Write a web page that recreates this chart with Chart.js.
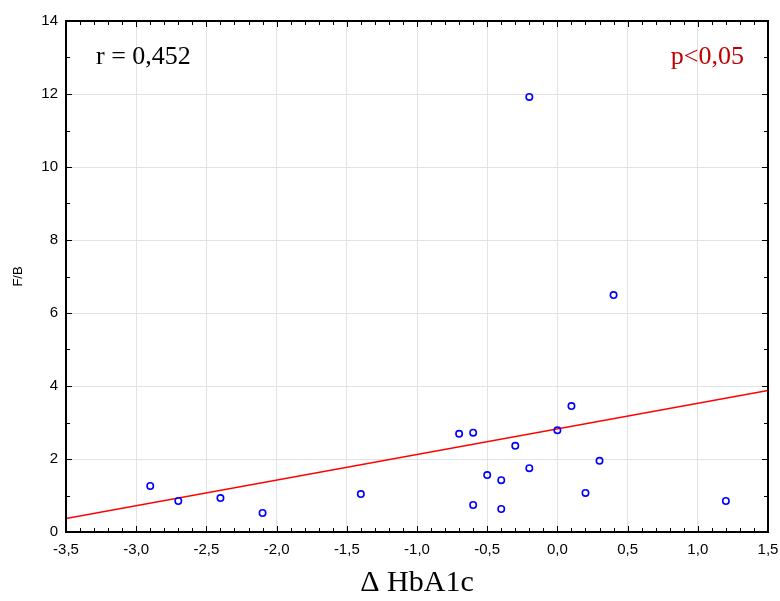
<!DOCTYPE html>
<html>
<head>
<meta charset="utf-8">
<script src="https://cdn.jsdelivr.net/npm/chart.js@4"></script>
<style>
  html, body { margin: 0; padding: 0; background: #fff; }
  #wrap { width: 780px; height: 601px; }
</style>
</head>
<body>
<div id="wrap"><canvas id="chart"></canvas></div>
<script>
const xValues = [-2.9, -2.7, -2.4, -2.1, -1.4, -0.7, -0.6, -0.6, -0.5, -0.4, -0.4, -0.3, -0.2, -0.2, 0.0, 0.1, 0.2, 0.3, 0.4, 1.2];
const yValues = [1.26, 0.85, 0.93, 0.52, 1.04, 2.69, 2.72, 0.74, 1.56, 1.42, 0.63, 2.36, 11.92, 1.75, 2.79, 3.45, 1.07, 1.95, 6.49, 0.85];

// fitted regression line, ends at the axis limits
const fitX = [-3.5, 1.5];
const fitY = [0.37, 3.88];

const rText = "r = 0,452";
const pText = "p<0,05";

const comma = v => v.toFixed(1).replace(".", ",");

// frame + inward ticks like the original stats package
const framePlugin = {
  id: "frame",
  afterDraw(chart) {
    const { ctx, chartArea: a, scales } = chart;
    const xs = scales.x, ys = scales.y;
    ctx.save();
    ctx.strokeStyle = "#000";
    ctx.lineWidth = 1;
    ctx.beginPath();
    for (let i = 0; i <= 50; i++) {
      const v = -3.5 + i * 0.1;
      const px = Math.round(xs.getPixelForValue(v)) + 0.5;
      const len = i % 5 === 0 ? 6 : 4;
      ctx.moveTo(px, a.bottom); ctx.lineTo(px, a.bottom - len);
      ctx.moveTo(px, a.top); ctx.lineTo(px, a.top + len);
    }
    for (let v = 0; v <= 14; v++) {
      const py = Math.round(ys.getPixelForValue(v)) + 0.5;
      const len = v % 2 === 0 ? 6 : 4;
      ctx.moveTo(a.left, py); ctx.lineTo(a.left + len, py);
      ctx.moveTo(a.right, py); ctx.lineTo(a.right - len, py);
    }
    ctx.stroke();
    ctx.lineWidth = 2;
    ctx.strokeRect(a.left, a.top, a.right - a.left, a.bottom - a.top);

    ctx.font = '26px "Liberation Serif", "Times New Roman", serif';
    ctx.textBaseline = "alphabetic";
    ctx.fillStyle = "#000";
    ctx.textAlign = "left";
    ctx.fillText(rText, a.left + 30, a.top + 43);
    ctx.fillStyle = "#c00000";
    ctx.textAlign = "right";
    ctx.fillText(pText, a.right - 24, a.top + 43);
    ctx.restore();
  }
};

new Chart(document.getElementById("chart"), {
  type: "scatter",
  data: {
    datasets: [
      {
        label: "F/B",
        data: xValues.map((x, i) => ({ x: x, y: yValues[i] })),
        pointStyle: "circle",
        pointRadius: 3.2,
        pointBorderWidth: 1.6,
        pointBorderColor: "#0000ff",
        pointBackgroundColor: "rgba(0,0,0,0)",
        order: 1
      },
      {
        label: "fit",
        type: "line",
        data: fitX.map((x, i) => ({ x: x, y: fitY[i] })),
        borderColor: "#ff0000",
        borderWidth: 1.5,
        pointRadius: 0,
        fill: false,
        order: 2
      }
    ]
  },
  options: {
    responsive: true,
    maintainAspectRatio: false,
    animation: false,
    layout: { padding: { top: 21, right: 12, left: 0, bottom: 0 } },
    plugins: {
      legend: { display: false },
      tooltip: { enabled: false }
    },
    scales: {
      x: {
        type: "linear",
        min: -3.5,
        max: 1.5,
        afterFit: s => { s.height = 69; s.paddingLeft = 0; s.paddingRight = 0; },
        border: { display: false },
        grid: { color: "#e3e3e3", lineWidth: 1, drawTicks: false },
        ticks: {
          stepSize: 0.5,
          padding: 9,
          color: "#000",
          font: { family: '"Liberation Sans Narrow", "Liberation Sans", Arial, sans-serif', size: 15 },
          callback: v => comma(v)
        },
        title: {
          display: true,
          text: "Δ HbA1c",
          color: "#000",
          padding: { top: 0, bottom: 0 },
          font: { family: '"Liberation Serif", "Times New Roman", serif', size: 30 }
        }
      },
      y: {
        type: "linear",
        min: 0,
        max: 14,
        afterFit: s => { s.width = 66; s.paddingTop = 0; s.paddingBottom = 0; },
        border: { display: false },
        grid: { color: "#e3e3e3", lineWidth: 1, drawTicks: false },
        ticks: {
          stepSize: 2,
          padding: 8,
          color: "#000",
          font: { family: '"Liberation Sans", Arial, sans-serif', size: 15 }
        },
        title: {
          display: true,
          text: "F/B",
          color: "#000",
          padding: { top: 11, bottom: 4 },
          font: { family: '"Liberation Sans", Arial, sans-serif', size: 13 }
        }
      }
    }
  },
  plugins: [framePlugin]
});
</script>
</body>
</html>
